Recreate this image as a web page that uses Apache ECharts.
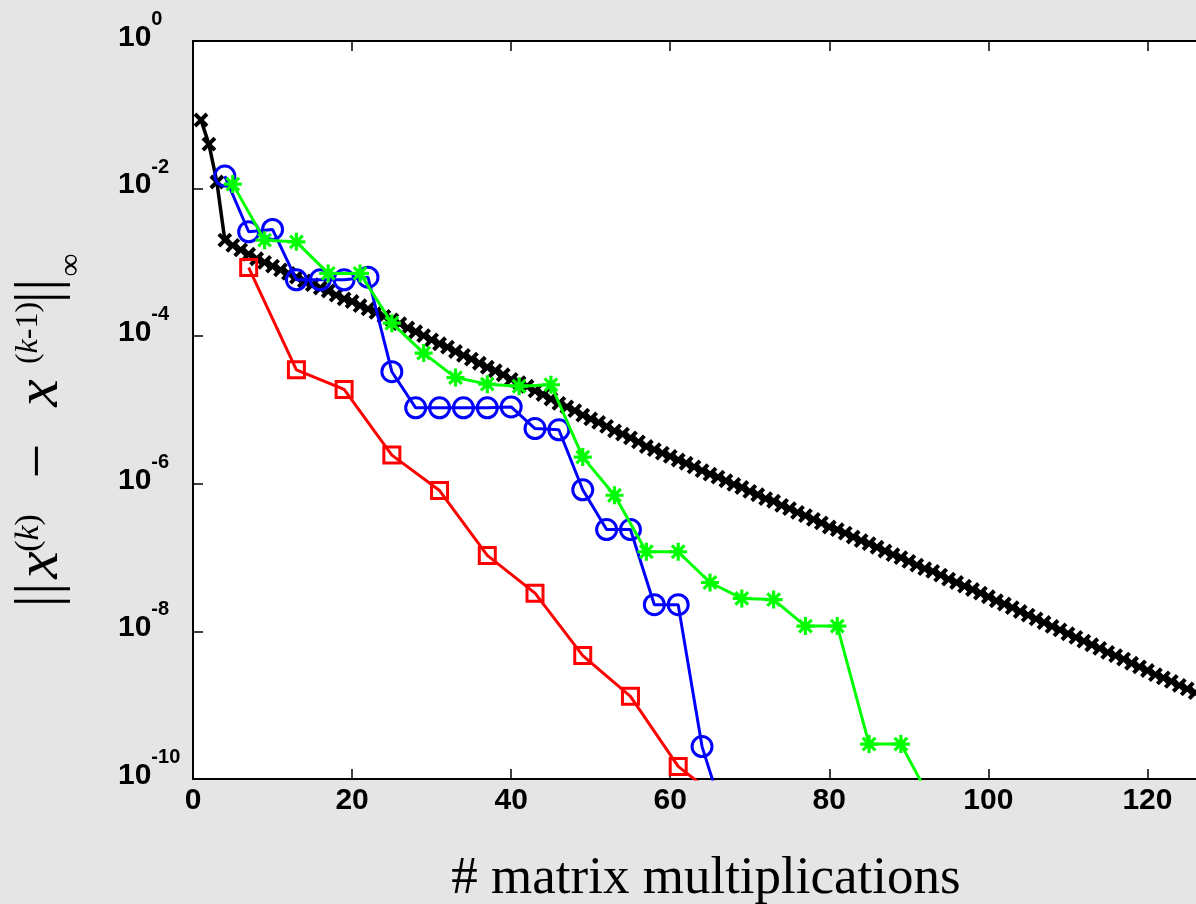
<!DOCTYPE html>
<html><head><meta charset="utf-8">
<script src="https://cdn.jsdelivr.net/npm/echarts@6/dist/echarts.min.js"></script>
<style>html,body{margin:0;padding:0;background:#e5e5e5;overflow:hidden;width:1196px;height:904px}#c{width:1230px;height:904px}</style>
</head><body><div id="c"></div>
<script>
// ---------- data ----------
const yTickExponents = [0, -2, -4, -6, -8, -10];
const xTickLabels = ['0', '20', '40', '60', '80', '100', '120'];

const blackX = [1,2,3,4,5,6,7,8,9,10,11,12,13,14,15,16,17,18,19,20,21,22,23,24,25,26,27,28,29,30,
  31,32,33,34,35,36,37,38,39,40,41,42,43,44,45,46,47,48,49,50,51,52,53,54,55,56,57,58,59,60,
  61,62,63,64,65,66,67,68,69,70,71,72,73,74,75,76,77,78,79,80,81,82,83,84,85,86,87,88,89,90,
  91,92,93,94,95,96,97,98,99,100,101,102,103,104,105,106,107,108,109,110,111,112,113,114,115,116,117,118,119,120,
  121,122,123,124,125,126,127,128];
const blackY = [8.5e-2,4.0e-2,1.23e-2,2.0e-3,1.7e-3,1.48e-3,1.29e-3,1.12e-3,1.0e-3,8.9e-4,
  7.9e-4,7.1e-4,6.3e-4,5.6e-4,5.0e-4,4.5e-4,4.1e-4,3.6e-4,3.2e-4,2.95e-4,
  2.6e-4,2.35e-4,2.1e-4,1.86e-4,1.66e-4,1.48e-4,1.29e-4,1.15e-4,1.02e-4,8.9e-5,
  7.9e-5,7.1e-5,6.2e-5,5.5e-5,4.9e-5,4.3e-5,3.8e-5,3.4e-5,3.0e-5,2.6e-5,
  2.35e-5,2.1e-5,1.82e-5,1.62e-5,1.41e-5,1.23e-5,1.1e-5,9.8e-6,8.5e-6,7.6e-6,
  6.8e-6,6.0e-6,5.2e-6,4.7e-6,4.2e-6,3.7e-6,3.2e-6,2.9e-6,2.6e-6,2.35e-6,
  2.1e-6,1.9e-6,1.7e-6,1.51e-6,1.35e-6,1.23e-6,1.1e-6,9.8e-7,8.9e-7,7.9e-7,
  7.1e-7,6.3e-7,5.8e-7,5.1e-7,4.6e-7,4.1e-7,3.7e-7,3.3e-7,2.95e-7,2.6e-7,
  2.4e-7,2.15e-7,1.9e-7,1.7e-7,1.55e-7,1.38e-7,1.23e-7,1.1e-7,1.0e-7,8.9e-8,
  7.9e-8,7.1e-8,6.5e-8,5.8e-8,5.1e-8,4.6e-8,4.1e-8,3.7e-8,3.3e-8,2.95e-8,
  2.6e-8,2.35e-8,2.1e-8,1.86e-8,1.66e-8,1.48e-8,1.32e-8,1.17e-8,1.05e-8,9.3e-9,
  8.3e-9,7.4e-9,6.6e-9,5.9e-9,5.2e-9,4.7e-9,4.2e-9,3.7e-9,3.3e-9,2.95e-9,
  2.6e-9,2.35e-9,2.1e-9,1.86e-9,1.66e-9,1.48e-9,1.32e-9,1.17e-9];

const redX = [7,13,19,25,31,37,43,49,55,61,67];
const redY = [8.5e-4,3.5e-5,1.9e-5,2.45e-6,8.1e-7,1.07e-7,3.3e-8,4.7e-9,1.32e-9,1.48e-10,4.6e-11];

const blueX = [4,7,10,13,16,19,22,25,28,31,34,37,40,43,46,49,52,55,58,61,64,67];
const blueY = [1.48e-2,2.6e-3,2.8e-3,5.8e-4,5.8e-4,5.8e-4,6.3e-4,3.3e-5,1.07e-5,1.07e-5,
  1.07e-5,1.07e-5,1.1e-5,5.6e-6,5.4e-6,8.3e-7,2.4e-7,2.4e-7,2.3e-8,2.3e-8,2.75e-10,2.6e-11];

const greenX = [5,9,13,17,21,25,29,33,37,41,45,49,53,57,61,65,69,73,77,81,85,89,93];
const greenY = [1.15e-2,2.0e-3,1.9e-3,7.1e-4,7.1e-4,1.5e-4,5.9e-5,2.75e-5,2.24e-5,2.1e-5,
  2.2e-5,2.3e-6,7.0e-7,1.2e-7,1.2e-7,4.6e-8,2.8e-8,2.7e-8,1.18e-8,1.18e-8,2.97e-10,2.97e-10,4.7e-11];

// ---------- chart ----------
const pairs = (xs, ys) => xs.map((x, i) => [x, ys[i]]);
const SANS = "'Liberation Sans', Arial, sans-serif";
const SERIF = "'Liberation Serif', 'Times New Roman', serif";

const chart = echarts.init(document.getElementById('c'), null, {renderer: 'canvas'});

const crossPath = 'path://M0,0L10,10M10,0L0,10';
const starPath = 'path://M5,0L5,10M0,5L10,5M1.5,1.5L8.5,8.5M8.5,1.5L1.5,8.5';

function rotText(text, x, y, size, italic) {
  return {
    type: 'text', x: x, y: y, rotation: Math.PI / 2, silent: true,
    style: {
      text: text, fill: '#000',
      font: (italic ? 'italic ' : '') + size + 'px ' + SERIF,
      align: 'center', verticalAlign: 'middle',
      textAlign: 'center', textVerticalAlign: 'middle'
    }
  };
}

const axisCommon = {
  axisLine: {show: true, onZero: false, lineStyle: {color: '#000', width: 2}},
  axisTick: {show: true, inside: true, length: 10, lineStyle: {color: '#000', width: 1.5}},
  splitLine: {show: false}
};

const option = {
  animation: false,
  backgroundColor: '#e5e5e5',
  grid: {left: 193, top: 41, right: 0, bottom: 125, show: true, backgroundColor: '#ffffff', borderWidth: 0},
  xAxis: [Object.assign({
    type: 'value', min: 0, max: 130, interval: 20, position: 'bottom',
    axisLabel: {
      margin: 7, color: '#000', fontFamily: SANS, fontSize: 30, fontWeight: 'bold',
      formatter: v => { const i = Math.round(v / 20); return (v % 20 === 0 && xTickLabels[i] !== undefined) ? xTickLabels[i] : ''; }
    }
  }, axisCommon), Object.assign({
    type: 'value', min: 0, max: 130, interval: 20, position: 'top',
    axisLabel: {show: false}
  }, axisCommon)],
  yAxis: Object.assign({
    type: 'log', logBase: 10, min: 1e-10, max: 1, interval: 2,
    minorTick: {show: false},
    axisLabel: {
      align: 'left', margin: 75, padding: [0, 0, 20, 0],
      formatter: v => {
        const e = Math.round(Math.log10(v));
        return yTickExponents.indexOf(e) >= 0 ? '{b|10}{s|' + e + '}' : '';
      },
      rich: {
        b: {fontFamily: SANS, fontSize: 30, fontWeight: 'bold', color: '#000', lineHeight: 43, verticalAlign: 'bottom'},
        s: {fontFamily: SANS, fontSize: 20, fontWeight: 'bold', color: '#000', lineHeight: 21, verticalAlign: 'top'}
      }
    }
  }, axisCommon),
  series: [
    {
      type: 'line', name: 'black', data: pairs(blackX, blackY), clip: true,
      symbol: crossPath, symbolSize: 12,
      lineStyle: {color: '#000', width: 3.5},
      itemStyle: {color: '#000', borderColor: '#000', borderWidth: 4},
      z: 2
    },
    {
      type: 'line', name: 'red', data: pairs(redX, redY), clip: true,
      symbol: 'rect', symbolSize: 16,
      lineStyle: {color: '#ff0000', width: 3},
      itemStyle: {color: 'rgba(0,0,0,0)', borderColor: '#ff0000', borderWidth: 3},
      z: 3
    },
    {
      type: 'line', name: 'blue', data: pairs(blueX, blueY), clip: true,
      symbol: 'circle', symbolSize: 20,
      lineStyle: {color: '#0000ff', width: 3},
      itemStyle: {color: 'rgba(0,0,0,0)', borderColor: '#0000ff', borderWidth: 3},
      z: 4
    },
    {
      type: 'line', name: 'green', data: pairs(greenX, greenY), clip: true,
      symbol: starPath, symbolSize: 18,
      lineStyle: {color: '#00ff00', width: 3},
      itemStyle: {color: '#00ff00', borderColor: '#00ff00', borderWidth: 3.2},
      z: 5
    }
  ],
  graphic: [
    {
      type: 'text', x: 706, y: 879, silent: true,
      style: {text: '# matrix multiplications', fill: '#000', font: '53px ' + SERIF,
        align: 'center', verticalAlign: 'middle', textAlign: 'center', textVerticalAlign: 'middle'}
    },
    rotText('||', 41, 595, 62, false),
    rotText('x', 41, 565, 62, true),
    {
      type: 'text', x: 29, y: 533, rotation: Math.PI / 2, silent: true,
      style: {text: '({i|k})', fill: '#000', font: '34px ' + SERIF,
        align: 'center', verticalAlign: 'middle', textAlign: 'center', textVerticalAlign: 'middle',
        rich: {i: {fontStyle: 'italic', fontSize: 34, fontFamily: SERIF, fill: '#000'}}}
    },
    rotText('\u2212', 41, 461, 62, false),
    rotText('x', 41, 393, 62, true),
    {
      type: 'text', x: 29, y: 333, rotation: Math.PI / 2, silent: true,
      style: {text: '({i|k}-1)', fill: '#000', font: '32px ' + SERIF,
        align: 'center', verticalAlign: 'middle', textAlign: 'center', textVerticalAlign: 'middle',
        rich: {i: {fontStyle: 'italic', fontSize: 32, fontFamily: SERIF, fill: '#000'}}}
    },
    rotText('||', 41, 291, 62, false),
    rotText('\u221E', 72, 265, 32, false)
  ]
};
chart.setOption(option);
</script>
</body></html>
